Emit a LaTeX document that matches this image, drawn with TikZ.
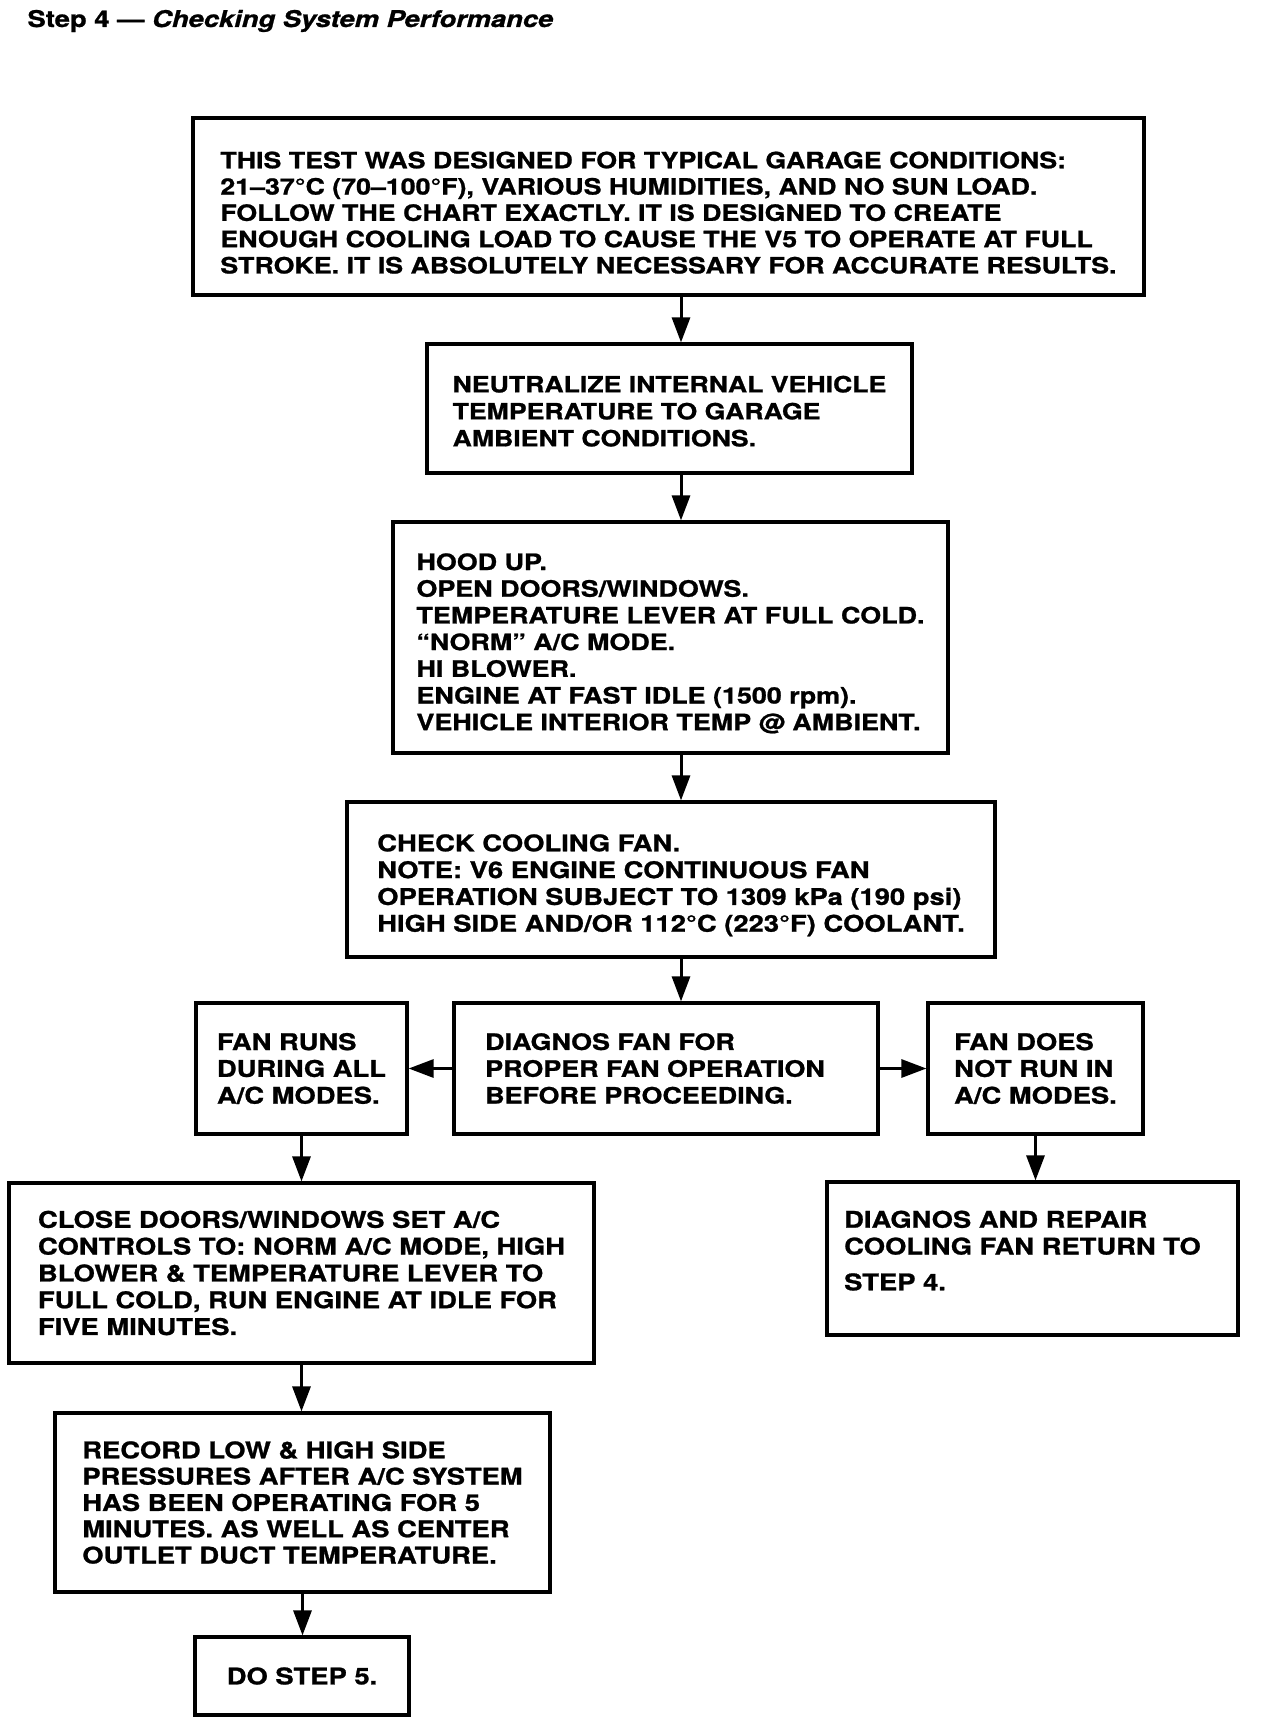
\documentclass[tikz,border=0pt]{standalone}
\usepackage{fontspec}
\setmainfont{TeX Gyre Heros}[FakeStretch=1.19,FakeBold=1]
\usepackage{tikz}
\usetikzlibrary{positioning,arrows.meta}
\newcommand{\bodyfont}{\fontsize{23}{26.8}\selectfont\bfseries}
\tikzstyle{box}   = [draw, rectangle, line width=3.2pt, align=left, inner sep=0pt, font=\bodyfont]
\tikzstyle{arrow} = [line width=3pt,-{Triangle[length=25pt,width=18pt]}]

\begin{document}
\begin{tikzpicture}[x=1pt,y=-1pt]
		\fill[white] (0,0) rectangle (1264,1726);
		\coordinate (spine) at (681,0);

		\node[anchor=base west, font=\fontsize{23}{27}\selectfont\bfseries] (title) at (24,27) {Step 4 --- \textit{Checking System Performance}};

		\node[box, font=\fontsize{22.5}{26.3}\selectfont\bfseries, minimum width=951pt, minimum height=177pt] (test) at (668.5,206.5) {\rule{0pt}{29pt}THIS TEST WAS DESIGNED FOR TYPICAL GARAGE CONDITIONS:\\ 21–37°C (70–100°F), VARIOUS HUMIDITIES, AND NO SUN LOAD.\\ FOLLOW THE CHART EXACTLY. IT IS DESIGNED TO CREATE\\ ENOUGH COOLING LOAD TO CAUSE THE V5 TO OPERATE AT FULL\\ STROKE. IT IS ABSOLUTELY NECESSARY FOR ACCURATE RESULTS.};
		\node[box, font=\fontsize{22.4}{27}\selectfont\bfseries, minimum width=485pt, minimum height=129pt] (neutral) at (669.5,408.5) {\rule{0pt}{22pt}NEUTRALIZE INTERNAL VEHICLE\\ TEMPERATURE TO GARAGE\\ AMBIENT CONDITIONS.};
		\node[box, font=\fontsize{22.6}{26.7}\selectfont\bfseries, minimum width=555pt, minimum height=231pt] (setup) at (670.5,637.5) {\rule{0pt}{28.5pt}HOOD UP.\\ OPEN DOORS/WINDOWS.\\ TEMPERATURE LEVER AT FULL COLD.\\ ``NORM'' A/C MODE.\\ HI BLOWER.\\ ENGINE AT FAST IDLE (1500 rpm).\\ VEHICLE INTERIOR TEMP @ AMBIENT.};
		\node[box, minimum width=648pt, minimum height=155pt] (fancheck) at (671,879.5) {\rule{0pt}{28.6pt}CHECK COOLING FAN.\\ NOTE: V6 ENGINE CONTINUOUS FAN\\ OPERATION SUBJECT TO 1309 kPa (190 psi)\\ HIGH SIDE AND/OR 112°C (223°F) COOLANT.};

		\node[box, minimum width=211pt, minimum height=131pt] (fanruns) at (301.5,1068.5) {FAN RUNS\\ DURING ALL\\ A/C MODES.};
		\node[box, font=\fontsize{22.6}{26.8}\selectfont\bfseries, minimum width=424pt, minimum height=131pt] (diagnos) at (666,1068.5) {DIAGNOS FAN FOR\\ PROPER FAN OPERATION\rule{22pt}{0pt}\\ BEFORE PROCEEDING.};
		\node[box, minimum width=215pt, minimum height=131pt] (fannot) at (1035.5,1068.5) {FAN DOES\\ NOT RUN IN\\ A/C MODES.};

		\node[box, minimum width=585pt, minimum height=180pt] (closedoors) at (301.5,1273) {CLOSE DOORS/WINDOWS SET A/C\\ CONTROLS TO: NORM A/C MODE, HIGH\\ BLOWER \& TEMPERATURE LEVER TO\\ FULL COLD, RUN ENGINE AT IDLE FOR\\ FIVE MINUTES.};
		\node[box, minimum width=411pt, minimum height=153pt] (repair) at (1032.5,1258.5) {DIAGNOS AND REPAIR\\ COOLING FAN RETURN TO\rule{20pt}{0pt}\\[9pt] STEP 4.\rule[-16pt]{0pt}{1pt}};
		\node[box, font=\fontsize{23}{26.3}\selectfont\bfseries, minimum width=495pt, minimum height=179pt] (record) at (302.5,1502.5) {RECORD LOW \& HIGH SIDE\\ PRESSURES AFTER A/C SYSTEM\\ HAS BEEN OPERATING FOR 5\\ MINUTES. AS WELL AS CENTER\\ OUTLET DUCT TEMPERATURE.};
		\node[box, minimum width=214pt, minimum height=78pt] (stepfive) at (302,1676) {DO STEP 5.};

		\draw[arrow] (test.south -| spine) -- (neutral.north -| spine);
		\draw[arrow] (neutral.south -| spine) -- (setup.north -| spine);
		\draw[arrow] (setup.south -| spine) -- (fancheck.north -| spine);
		\draw[arrow] (fancheck.south -| spine) -- (diagnos.north -| spine);

		\draw[arrow] (diagnos.west) -- (fanruns.east);
		\draw[arrow] (diagnos.east) -- (fannot.west);

		\draw[arrow] (fanruns.south) -- (fanruns.south |- closedoors.north);
		\draw[arrow] (fannot.south) -- (fannot.south |- repair.north);
		\draw[arrow] (closedoors.south) -- (closedoors.south |- record.north);
		\draw[arrow] (record.south) -- (record.south |- stepfive.north);
	\end{tikzpicture}
\end{document}
